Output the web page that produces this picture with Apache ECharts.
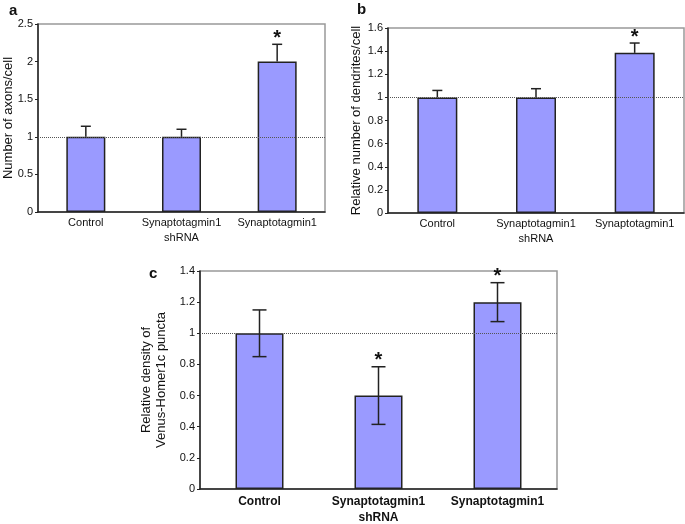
<!DOCTYPE html>
<html><head><meta charset="utf-8">
<script src="https://cdn.jsdelivr.net/npm/echarts@6/dist/echarts.min.js"></script>
<style>html,body{margin:0;padding:0;background:#fff}#c{width:685px;height:524px}</style>
</head><body><div id="c"></div>
<script>
const categories = ['Control', 'Synaptotagmin1\nshRNA', 'Synaptotagmin1'];
const axonsMean = [1.0, 1.0, 2.0];
const axonsErrHigh = [1.14, 1.10, 2.23];
const axonsStar = [false, false, true];
const dendMean = [1.0, 1.0, 1.385];
const dendErrHigh = [1.06, 1.075, 1.47];
const dendStar = [false, false, true];
const punctaMean = [1.0, 0.6, 1.2];
const punctaErrLow = [0.85, 0.415, 1.075];
const punctaErrHigh = [1.15, 0.785, 1.325];
const punctaStar = [false, true, true];

const FONT = 'Liberation Sans, Arial, sans-serif';
const barColor = '#9a9aff';

function errSeries(idx, low, high, stars, cap) {
  return {
    type: 'custom', xAxisIndex: idx, yAxisIndex: idx, z: 5,
    data: low.map((l, i) => [i, l, high[i], stars[i] ? 1 : 0]),
    renderItem: function (params, api) {
      const x = api.value(0);
      const lo = api.coord([x, api.value(1)]);
      const hi = api.coord([x, api.value(2)]);
      const st = {stroke: '#222', lineWidth: 1.5};
      const ch = [
        {type: 'line', shape: {x1: lo[0], y1: lo[1], x2: hi[0], y2: hi[1]}, style: st},
        {type: 'line', shape: {x1: hi[0] - cap, y1: hi[1], x2: hi[0] + cap, y2: hi[1]}, style: st}
      ];
      if (cap > 5) {
        ch.push({type: 'line', shape: {x1: lo[0] - cap, y1: lo[1], x2: lo[0] + cap, y2: lo[1]}, style: st});
      }
      if (api.value(3)) {
        ch.push({type: 'text', style: {text: '*', x: hi[0], y: hi[1] + 4, align: 'center', verticalAlign: 'bottom', font: 'bold 20px ' + FONT, fill: '#111'}});
      }
      return {type: 'group', children: ch};
    }
  };
}

function barSeries(idx, data, w) {
  return {
    type: 'bar', xAxisIndex: idx, yAxisIndex: idx, data: data, barWidth: w,
    itemStyle: {color: barColor, borderColor: '#222', borderWidth: 1.5},
    markLine: {symbol: 'none', silent: true, label: {show: false},
      lineStyle: {type: [1, 1], color: '#555', width: 1}, data: [{yAxis: 1}]}
  };
}

function yAx(idx, max, interval, name, gap, nameSize) {
  return {
    type: 'value', gridIndex: idx, min: 0, max: max, interval: interval,
    name: name, nameLocation: 'middle', nameGap: gap, nameMoveOverlap: false,
    nameTextStyle: {fontFamily: FONT, fontSize: nameSize, color: '#111', lineHeight: 15},
    axisLine: {show: true, lineStyle: {color: '#222', width: 1.5}},
    axisTick: {show: true, length: 3, lineStyle: {color: '#222', width: 1}}, splitLine: {show: false},
    axisLabel: {fontFamily: FONT, fontSize: 11, color: '#111', margin: 5}
  };
}
function xAx(idx, bold, size, margin) {
  return {
    type: 'category', gridIndex: idx, data: categories,
    axisLine: {show: true, lineStyle: {color: '#222', width: 1.5}},
    axisTick: {show: false},
    axisLabel: {fontFamily: FONT, fontSize: size, color: '#111', fontWeight: bold ? 'bold' : 'normal', margin: margin, lineHeight: size + 4, interval: 0}
  };
}

const gridBase = {show: true, borderColor: '#999', borderWidth: 1.5, backgroundColor: '#fff', containLabel: false, outerBoundsMode: 'none'};
const chart = echarts.init(document.getElementById('c'), null, {renderer: 'canvas'});
chart.setOption({
  backgroundColor: '#fff',
  animation: false,
  grid: [
    Object.assign({left: 38, top: 24, width: 287, height: 188}, gridBase),
    Object.assign({left: 388, top: 28, width: 296, height: 185}, gridBase),
    Object.assign({left: 200, top: 271, width: 357, height: 218}, gridBase)
  ],
  xAxis: [xAx(0, false, 11, 3), xAx(1, false, 11, 3), xAx(2, true, 12, 5)],
  yAxis: [
    yAx(0, 2.5, 0.5, 'Number of axons/cell', 22, 13),
    yAx(1, 1.6, 0.2, 'Relative number of dendrites/cell', 24, 13),
    yAx(2, 1.4, 0.2, 'Relative density of\nVenus-Homer1c puncta', 31, 13)
  ],
  graphic: [
    {type: 'text', left: 9, top: 3, style: {text: 'a', font: 'bold 15px ' + FONT, fill: '#111'}},
    {type: 'text', left: 357, top: 2, style: {text: 'b', font: 'bold 15px ' + FONT, fill: '#111'}},
    {type: 'text', left: 149, top: 266, style: {text: 'c', font: 'bold 15px ' + FONT, fill: '#111'}}
  ],
  series: [
    barSeries(0, axonsMean, 39),
    errSeries(0, axonsMean, axonsErrHigh, axonsStar, 5),
    barSeries(1, dendMean, 40),
    errSeries(1, dendMean, dendErrHigh, dendStar, 5),
    barSeries(2, punctaMean, 48),
    errSeries(2, punctaErrLow, punctaErrHigh, punctaStar, 7)
  ]
});
</script></body></html>
